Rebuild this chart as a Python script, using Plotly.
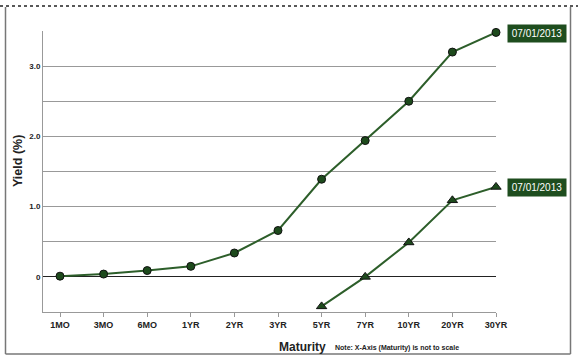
import plotly.graph_objects as go

maturities = ["1MO", "3MO", "6MO", "1YR", "2YR", "3YR", "5YR", "7YR", "10YR", "20YR", "30YR"]
nominal_yield = [0.01, 0.04, 0.09, 0.15, 0.34, 0.66, 1.39, 1.94, 2.50, 3.20, 3.48]
real_maturities = ["5YR", "7YR", "10YR", "20YR", "30YR"]
real_yield = [-0.42, 0.00, 0.49, 1.09, 1.28]
series_label = "07/01/2013"
y_tickvals = [-0.5, 0, 0.5, 1.0, 1.5, 2.0, 2.5, 3.0, 3.5]
y_ticktext = ["", "0", "", "1.0", "", "2.0", "", "3.0", ""]

LINE = "#2d5e2a"
FILL = "#1d4a1c"
BOX = "#1e4d1e"
FONT = "Liberation Sans, Arial, sans-serif"

# plot-area pixel geometry (for paper-coordinate decorations)
L, R, T, B = 43, 496, 31, 312
W, H = 578, 362
def px(x):
    return (x - L) / (R - L)
def py(y):
    return (B - y) / (B - T)

fig = go.Figure()
fig.add_trace(go.Scatter(
    x=maturities, y=nominal_yield, mode="lines+markers",
    line=dict(color=LINE, width=2),
    marker=dict(symbol="circle", size=8, color=FILL, line=dict(color="#111", width=1)),
    cliponaxis=False, showlegend=False))
fig.add_trace(go.Scatter(
    x=real_maturities, y=real_yield, mode="lines+markers",
    line=dict(color=LINE, width=2),
    marker=dict(symbol="triangle-up", size=9, color=FILL, line=dict(color="#111", width=1)),
    cliponaxis=False, showlegend=False))

annotations = []
shapes = []
for xs, ys in [(maturities, nominal_yield), (real_maturities, real_yield)]:
    annotations.append(dict(
        x=xs[-1], y=ys[-1], xref="x", yref="y", text=series_label, showarrow=False,
        xanchor="left", yanchor="middle", xshift=11, yshift=-1,
        bgcolor=BOX, borderpad=3, width=52, height=11,
        font=dict(family=FONT, size=10, color="white")))
    shapes.append(dict(
        type="path", xref="x", yref="y", xsizemode="pixel", ysizemode="pixel",
        xanchor=xs[-1], yanchor=ys[-1], path="M 6 0 L 12 5 L 12 -5 Z",
        fillcolor=BOX, line=dict(width=0)))

annotations += [
    dict(x=px(302.5), y=py(347), xref="paper", yref="paper", text="<b>Maturity</b>",
         showarrow=False, xanchor="center", yanchor="middle",
         font=dict(family=FONT, size=12, color="#222")),
    dict(x=px(397), y=py(348), xref="paper", yref="paper",
         text="<b>Note: X-Axis (Maturity) is not to scale</b>",
         showarrow=False, xanchor="center", yanchor="middle",
         font=dict(family=FONT, size=7, color="#222")),
    dict(x=px(18), y=py(161), xref="paper", yref="paper", text="<b>Yield (%)</b>",
         showarrow=False, xanchor="center", yanchor="middle", textangle=-90,
         font=dict(family=FONT, size=12.5, color="#222")),
]

frame = "#777777"
shapes += [
    dict(type="line", xref="paper", yref="paper", x0=px(0), x1=px(578), y0=py(6), y1=py(6),
         line=dict(color="#222", width=1.5, dash="dot")),
    dict(type="line", xref="paper", yref="paper", x0=px(5.5), x1=px(5.5), y0=py(7), y1=py(354),
         line=dict(color=frame, width=1.5)),
    dict(type="line", xref="paper", yref="paper", x0=px(570.5), x1=px(570.5), y0=py(7), y1=py(354),
         line=dict(color=frame, width=1.5)),
    dict(type="line", xref="paper", yref="paper", x0=px(5.5), x1=px(570.5), y0=py(354), y1=py(354),
         line=dict(color=frame, width=1.5)),
]

fig.update_layout(
    width=W, height=H, margin=dict(l=L, r=W - R, t=T, b=H - B),
    paper_bgcolor="white", plot_bgcolor="white",
    annotations=annotations, shapes=shapes,
    font=dict(family=FONT),
    xaxis=dict(type="category", categoryorder="array", categoryarray=maturities,
               range=[-0.39, 10.0], showgrid=False, showline=True, linecolor="#999", linewidth=1,
               ticks="outside", ticklen=4, tickcolor="#999",
               tickfont=dict(family=FONT, size=9, color="#222", weight="bold"),
               zeroline=False, fixedrange=True),
    yaxis=dict(range=[-0.5, 3.5], tickvals=y_tickvals, ticktext=y_ticktext,
               showgrid=True, gridcolor="#999", gridwidth=1,
               showline=True, linecolor="#999", linewidth=1, ticks="",
               zeroline=True, zerolinecolor="#222", zerolinewidth=1,
               tickfont=dict(family=FONT, size=8, color="#222", weight="bold"),
               fixedrange=True),
)

fig.write_html("out.html", config={"displayModeBar": False},
               post_script="document.body.style.margin='0';")
